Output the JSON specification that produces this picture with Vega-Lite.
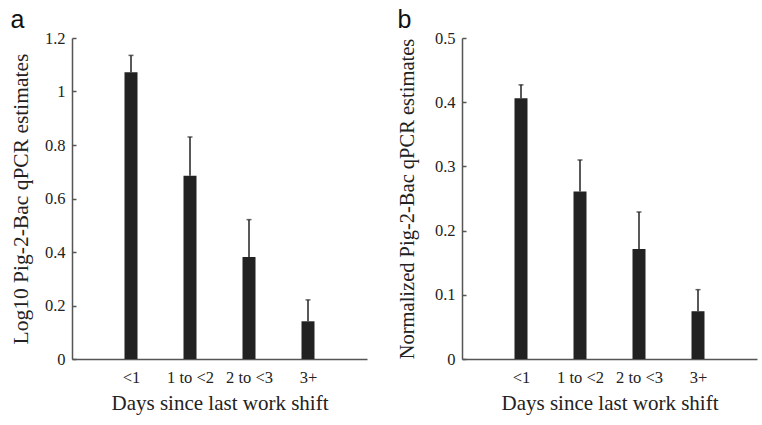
{
  "$schema": "https://vega.github.io/schema/vega-lite/v6.json",
  "background": "white",
  "padding": {"left": 10, "top": 8, "right": 5, "bottom": 5},
  "spacing": 30,
  "datasets": {
    "a": [
      {"days": "<1", "value": 1.072, "upper": 1.135},
      {"days": "1 to <2", "value": 0.685, "upper": 0.83},
      {"days": "2 to <3", "value": 0.381, "upper": 0.521},
      {"days": "3+", "value": 0.141, "upper": 0.221}
    ],
    "b": [
      {"days": "<1", "value": 0.406, "upper": 0.427},
      {"days": "1 to <2", "value": 0.261, "upper": 0.310},
      {"days": "2 to <3", "value": 0.1715, "upper": 0.229},
      {"days": "3+", "value": 0.0744, "upper": 0.108}
    ]
  },
  "config": {
    "view": {"stroke": null},
    "font": "Liberation Serif",
    "axis": {
      "grid": false,
      "domainColor": "#555555",
      "domainWidth": 1.5,
      "tickColor": "#555555",
      "tickWidth": 1.5,
      "labelFont": "Liberation Serif",
      "labelFontSize": 16.5,
      "labelColor": "#222222",
      "titleFont": "Liberation Serif",
      "titleFontSize": 21,
      "titleFontWeight": "normal",
      "titleColor": "#222222"
    },
    "title": {"font": "Liberation Sans", "fontSize": 25, "fontWeight": "normal", "anchor": "start", "frame": "bounds", "color": "#111111", "offset": -3}
  },
  "hconcat": [
    {
      "title": {"text": "a"},
      "width": 295,
      "height": 321,
      "data": {"name": "a"},
      "encoding": {
        "x": {
          "field": "days", "type": "ordinal", "sort": null,
          "scale": {"type": "point", "padding": 1},
          "axis": {"title": "Days since last work shift", "labelAngle": 0, "ticks": false, "tickSize": 0, "labelPadding": 10, "titlePadding": 7}
        }
      },
      "layer": [
        {
          "mark": {"type": "bar", "width": 13, "color": "#222222"},
          "encoding": {
            "y": {
              "field": "value", "type": "quantitative",
              "scale": {"domain": [0, 1.2], "nice": false},
              "axis": {"title": "Log10 Pig-2-Bac qPCR estimates", "titleFontSize": 21.5, "values": [0, 0.2, 0.4, 0.6, 0.8, 1, 1.2], "format": "~g", "tickSize": -4, "labelPadding": 11, "titlePadding": 12}
            }
          }
        },
        {
          "mark": {"type": "rule", "color": "#222222", "strokeWidth": 1.5},
          "encoding": {"y": {"field": "value", "type": "quantitative"}, "y2": {"field": "upper"}}
        },
        {
          "mark": {"type": "tick", "color": "#222222", "size": 5, "thickness": 1.5},
          "encoding": {"y": {"field": "upper", "type": "quantitative"}}
        }
      ]
    },
    {
      "title": {"text": "b"},
      "width": 295,
      "height": 321,
      "data": {"name": "b"},
      "encoding": {
        "x": {
          "field": "days", "type": "ordinal", "sort": null,
          "scale": {"type": "point", "padding": 1},
          "axis": {"title": "Days since last work shift", "labelAngle": 0, "ticks": false, "tickSize": 0, "labelPadding": 10, "titlePadding": 7}
        }
      },
      "layer": [
        {
          "mark": {"type": "bar", "width": 13, "color": "#222222"},
          "encoding": {
            "y": {
              "field": "value", "type": "quantitative",
              "scale": {"domain": [0, 0.5], "nice": false},
              "axis": {"title": "Normalized Pig-2-Bac qPCR estimates", "titleFontSize": 20.5, "values": [0, 0.1, 0.2, 0.3, 0.4, 0.5], "format": "~g", "tickSize": -4, "labelPadding": 11, "titlePadding": 17}
            }
          }
        },
        {
          "mark": {"type": "rule", "color": "#222222", "strokeWidth": 1.5},
          "encoding": {"y": {"field": "value", "type": "quantitative"}, "y2": {"field": "upper"}}
        },
        {
          "mark": {"type": "tick", "color": "#222222", "size": 5, "thickness": 1.5},
          "encoding": {"y": {"field": "upper", "type": "quantitative"}}
        }
      ]
    }
  ]
}
